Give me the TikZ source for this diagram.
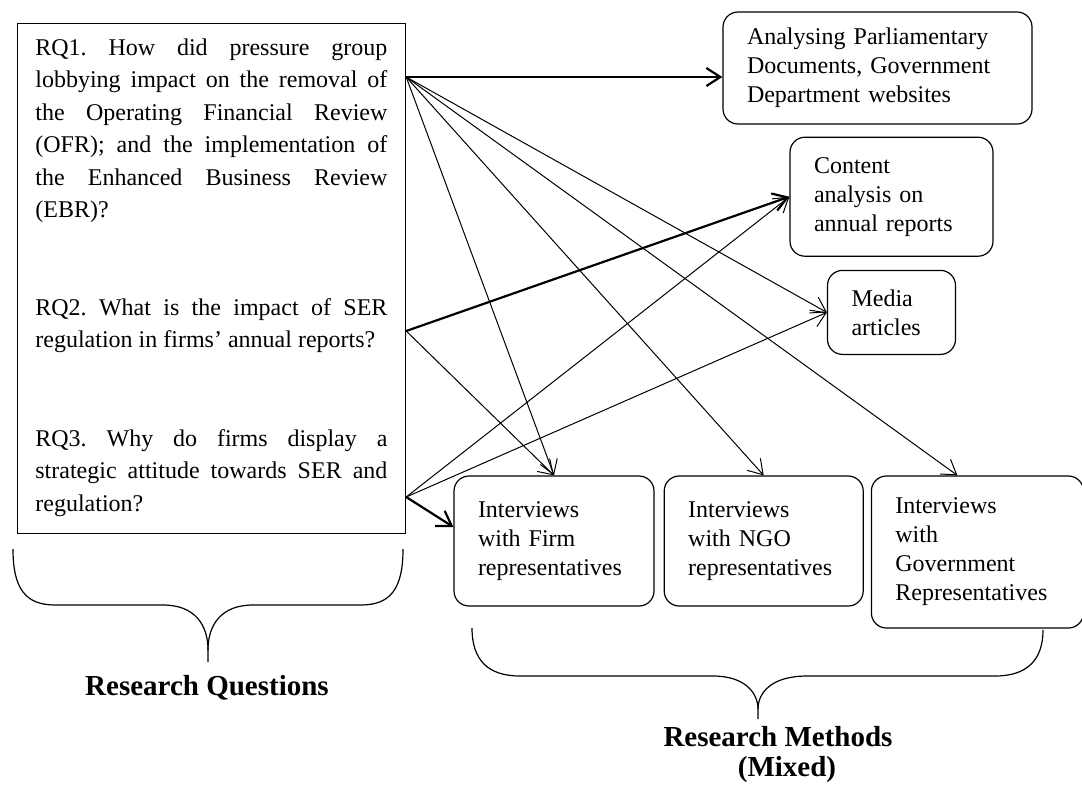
\documentclass[tikz,border=0pt]{standalone}
\usepackage{fontspec}
\setmainfont{Liberation Serif}
\usetikzlibrary{arrows.meta,positioning}
\frenchspacing

\begin{document}
\begin{tikzpicture}[x=0.5pt, y=-0.5pt, node distance=7pt, font=\fontsize{12pt}{14.5pt}\selectfont]
    \tikzstyle{block} = [rectangle, draw, line width=0.6pt, rounded corners=7.5pt, align=left, inner xsep=12pt, inner ysep=0pt]
    \tikzstyle{question} = [anchor=north west, inner sep=0pt, text width=176pt, align=justify, font=\fontsize{12pt}{16.25pt}\selectfont]
    \tikzstyle{link} = [draw, line width=0.5pt, -{Straight Barb[length=7pt, width=9pt]}]
    \tikzstyle{thicklink} = [link, line width=1.1pt]
    \tikzstyle{brace} = [draw, line width=0.6pt]
    \tikzstyle{caption} = [font=\fontsize{14.5pt}{15pt}\selectfont\bfseries, align=center]

    \useasboundingbox (0,0) rectangle (1082,784);

    % research questions
    \node [draw, line width=0.6pt, anchor=north west, inner sep=0pt, minimum width=194pt, minimum height=255pt] (rq) at (17,23) {};
    \node [question] (rq1) at (35,32.25) {\noindent\strut RQ1. How did pressure group\linebreak lobbying impact on the removal of\linebreak the Operating Financial Review\linebreak (OFR); and the implementation of\linebreak the Enhanced Business Review\linebreak (EBR)?};
    \node [question] (rq2) at (35,292.25) {\noindent\strut RQ2. What is the impact of SER\linebreak regulation in firms’ annual reports?};
    \node [question] (rq3) at (35,423) {\noindent\strut RQ3. Why do firms display a\linebreak strategic attitude towards SER and\linebreak regulation?};

    \coordinate (q1) at (rq.east |- 0,77);
    \coordinate (q2) at (rq.east |- 0,331);
    \coordinate (q3) at (rq.east |- 0,497);

    % research methods
    \node [block, minimum width=154.5pt, minimum height=56pt, text width=130.5pt] (parl) at (877.5,68) {Analysing Parliamentary\\Documents, Government\\Department websites};
    \node [block, below=6pt of parl, xshift=7pt, minimum width=101.5pt, minimum height=59.5pt, text width=77.5pt] (content) {Content\\analysis on\\annual reports};
    \node [block, below=6.5pt of content, minimum width=64pt, minimum height=42pt, text width=40pt] (media) {Media\\articles};

    \node [block, minimum width=100pt, minimum height=65pt, text width=76pt] (firm) at (554,541) {Interviews\\with Firm\\representatives};
    \node [block, right=4.5pt of firm.north east, anchor=north west, minimum width=99.5pt, minimum height=65pt, text width=75.5pt] (ngo) {Interviews\\with NGO\\representatives};
    \node [block, right=3.5pt of ngo.north east, anchor=north west, minimum width=106pt, minimum height=76pt, text width=82pt] (gov) {Interviews\\with\\Government\\Representatives};

    \path [thicklink] (q1) -- (q1 -| parl.west);
    \path [link] (q1) -- (firm.north);
    \path [link] (q1) -- (ngo.north);
    \path [link] (q1) -- ([xshift=-10pt]gov.north);
    \path [link] (q1) -- (media.west);
    \path [thicklink] (q2) -- (content.west);
    \path [link] (q2) -- (firm.north);
    \path [link] (q3) -- (content.west);
    \path [link] (q3) -- (media.west);
    \path [thicklink] (q3) -- ([yshift=7pt]firm.west);

    % braces
    \draw [brace] (13,549) .. controls (13,588) and (25,605) .. (55,605) -- (163,605) .. controls (195,605) and (208,625) .. (208,650) -- (208,662);
    \draw [brace] (403,549) .. controls (403,588) and (391,605) .. (361,605) -- (253,605) .. controls (221,605) and (208,625) .. (208,650);
    \draw [brace] (472,628) .. controls (472,660) and (488,676) .. (520,676) -- (713,676) .. controls (745,676) and (758,693) .. (758,709) -- (758,719);
    \draw [brace] (1043,630) .. controls (1043,660) and (1027,676) .. (995,676) -- (807,676) .. controls (771,676) and (758,693) .. (758,709);

    \node [caption] (rqlabel) at (207,688) {Research Questions};
    \node [caption] (rmlabel) at (778,755) {Research Methods\\\hspace*{9pt}(Mixed)};
\end{tikzpicture}
\end{document}
